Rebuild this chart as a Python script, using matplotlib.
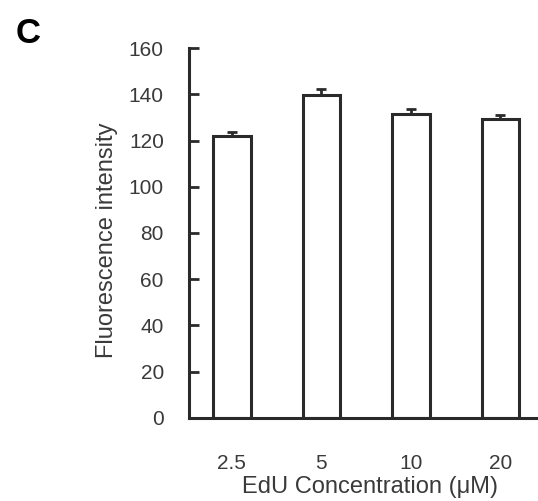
import numpy as np
import matplotlib
matplotlib.use('Agg')
from matplotlib import pyplot as plt

plt.rcParams['font.family'] = ['Liberation Sans', 'DejaVu Sans']

conc = ['2.5', '5', '10', '20']
intensity = [122, 139.5, 131.5, 129.3]
err = [1.9, 2.6, 2.2, 1.7]

fig = plt.figure(figsize=(5.38, 5.01), dpi=100)
ax = fig.add_axes([0.351, 0.166, 0.649, 0.738])

x = np.arange(len(conc))
# only upper error bars
ax.bar(x, intensity, width=0.42, color='white', edgecolor='#2a2a2a', linewidth=2.2,
       yerr=[[0] * len(err), err],
       error_kw=dict(ecolor='#2a2a2a', elinewidth=2, capsize=3.8, capthick=2))

ax.set_xlim(-0.48, 3.42)
ax.set_ylim(0, 160)
ax.set_yticks(range(0, 161, 20))
ax.set_xticks(x)
ax.set_xticklabels(conc)
ax.spines['top'].set_visible(False)
ax.spines['right'].set_visible(False)
for s in ['left', 'bottom']:
    ax.spines[s].set_linewidth(2.2)
    ax.spines[s].set_color('#2a2a2a')
ax.tick_params(axis='y', direction='in', length=7, width=2, color='#2a2a2a',
               labelsize=15, pad=18, labelcolor='#3a3a3a')
ax.tick_params(axis='x', length=0, labelsize=15, pad=26, labelcolor='#3a3a3a')
ax.set_xlabel('EdU Concentration (\u03bcM)', fontsize=17, color='#3a3a3a')
ax.xaxis.set_label_coords(0.518, -0.158)
ax.set_ylabel('Fluorescence intensity', fontsize=17, color='#3a3a3a')
ax.yaxis.set_label_coords(-0.203, 0.48)

fig.text(0.052, 0.934, 'C', fontsize=25, fontweight='bold', ha='center', va='center')

plt.savefig('out.png', dpi=100)
